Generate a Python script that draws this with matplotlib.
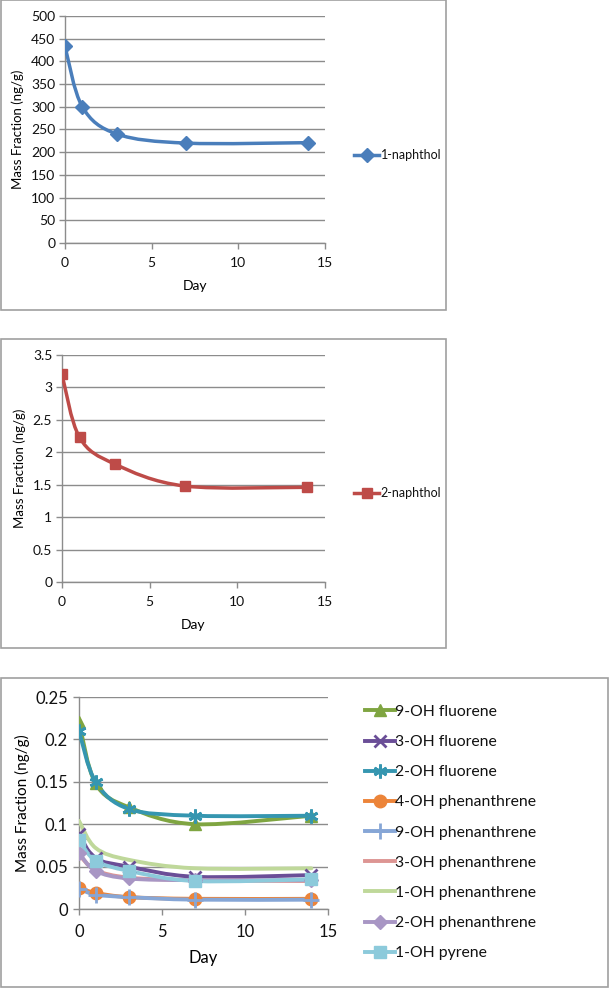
import matplotlib
matplotlib.use("Agg")
import matplotlib.pyplot as plt
import numpy as np
from matplotlib.path import Path
from matplotlib.patches import PathPatch, Rectangle
from matplotlib.lines import Line2D

plt.rcParams['font.family'] = ['Lato', 'DejaVu Sans']
plt.rcParams['text.color'] = '#111111'
plt.rcParams['xtick.labelcolor'] = '#111111'
plt.rcParams['ytick.labelcolor'] = '#111111'

days = [0, 1, 3, 7, 14]

naphthol1 = [433, 300, 240, 220, 221]
naphthol2 = [3.2, 2.23, 1.82, 1.48, 1.46]

oh_names = ["9-OH fluorene", "3-OH fluorene", "2-OH fluorene", "4-OH phenanthrene",
            "9-OH phenanthrene", "3-OH phenanthrene", "1-OH phenanthrene",
            "2-OH phenanthrene", "1-OH pyrene"]
fl9 = [0.220, 0.148, 0.120, 0.100, 0.110]
fl3 = [0.088, 0.060, 0.050, 0.038, 0.040]
fl2 = [0.210, 0.150, 0.118, 0.110, 0.110]
ph4 = [0.025, 0.019, 0.014, 0.012, 0.012]
ph9 = [0.024, 0.017, 0.014, 0.011, 0.011]
ph3 = [0.064, 0.046, 0.037, 0.034, 0.033]
ph1 = [0.104, 0.072, 0.058, 0.048, 0.048]
ph2 = [0.066, 0.045, 0.036, 0.034, 0.034]
py1 = [0.081, 0.057, 0.045, 0.033, 0.035]
oh_values = [fl9, fl3, fl2, ph4, ph9, ph3, ph1, ph2, py1]

oh_colors = ["#7FA541", "#6A4E97", "#3596B0", "#EC8439", "#86A6D6",
             "#DD9593", "#BFD89A", "#A896C4", "#8CCADB"]
oh_markers = ["^", "x", (6, 2, 0), "o", "+", "_", "_", "D", "s"]
oh_msize = [8, 8, 10, 9, 11, 0.1, 0.1, 7, 8]

W, H = 610, 988
fig = plt.figure(figsize=(W / 100, H / 100), dpi=100)

GRID = "#8C8C8C"


def fx(px):
    return px / W


def fy(py):
    return 1 - py / H


def add_box(x0, y0, x1, y1):
    fig.patches.append(Rectangle((fx(x0), fy(y1)), fx(x1 - x0), (y1 - y0) / H,
                                 transform=fig.transFigure, fill=False,
                                 edgecolor="#A0A0A0", linewidth=1.2))


def make_ax(l, t, r, b):
    ax = fig.add_axes([fx(l), fy(b), fx(r - l), (b - t) / H])
    for s in ["top", "right"]:
        ax.spines[s].set_visible(False)
    for s in ["left", "bottom"]:
        ax.spines[s].set_color(GRID)
        ax.spines[s].set_linewidth(1.0)
    ax.yaxis.grid(True, color=GRID, linewidth=1.0)
    ax.set_axisbelow(True)
    ax.tick_params(axis="both", color=GRID, length=4, width=1.0, direction="out")
    return ax


def smooth_line(ax, x, y, color, lw):
    pts = np.column_stack([x, y]).astype(float)
    n = len(pts)
    verts = [pts[0]]
    codes = [Path.MOVETO]
    for i in range(n - 1):
        p0 = pts[i - 1] if i > 0 else pts[i]
        p1 = pts[i]
        p2 = pts[i + 1]
        p3 = pts[i + 2] if i + 2 < n else pts[i + 1]
        c1 = p1 + (p2 - p0) / 6.0
        c2 = p2 - (p3 - p1) / 6.0
        verts += [c1, c2, p2]
        codes += [Path.CURVE4] * 3
    patch = PathPatch(Path(verts, codes), facecolor="none", edgecolor=color,
                      linewidth=lw, capstyle="round", joinstyle="round", zorder=3)
    ax.add_patch(patch)


# ---------- Panel 1 ----------
add_box(0.5, 0.5, 446, 310)
ax1 = make_ax(65, 16, 325, 243)
smooth_line(ax1, days, naphthol1, "#4A7EBB", 2.5)
ax1.plot(days, naphthol1, linestyle="none", marker="D", markersize=7,
         color="#4A7EBB", zorder=4)
ax1.set_xlim(0, 15)
ax1.set_ylim(0, 500)
ax1.set_xticks([0, 5, 10, 15])
ax1.set_yticks(np.arange(0, 501, 50))
ax1.tick_params(labelsize=10, pad=3)
ax1.tick_params(axis="x", pad=6)
ax1.set_xlabel("Day", fontsize=10, labelpad=8)
ax1.set_ylabel("Mass Fraction (ng/g)", fontsize=9.5, labelpad=5)
h1 = [Line2D([0], [0], color="#4A7EBB", lw=2.5, marker="D", markersize=7)]
fig.legend(h1, ["1-naphthol"], loc="center left",
           bbox_to_anchor=(fx(348), fy(155)), frameon=False, fontsize=9,
           handlelength=2.0, handletextpad=0.1, borderpad=0)

# ---------- Panel 2 ----------
add_box(0.5, 339, 446, 648)
ax2 = make_ax(62, 355, 325, 582)
smooth_line(ax2, days, naphthol2, "#BE4B48", 2.5)
ax2.plot(days, naphthol2, linestyle="none", marker="s", markersize=7.5,
         color="#BE4B48", zorder=4)
ax2.set_xlim(0, 15)
ax2.set_ylim(0, 3.5)
ax2.set_xticks([0, 5, 10, 15])
ax2.set_yticks(np.arange(0, 3.51, 0.5))
ax2.set_yticklabels(["0", "0.5", "1", "1.5", "2", "2.5", "3", "3.5"])
ax2.tick_params(labelsize=10, pad=3)
ax2.tick_params(axis="x", pad=6)
ax2.set_xlabel("Day", fontsize=10, labelpad=8)
ax2.set_ylabel("Mass Fraction (ng/g)", fontsize=9.5, labelpad=5)
h2 = [Line2D([0], [0], color="#BE4B48", lw=2.5, marker="s", markersize=7.5)]
fig.legend(h2, ["2-naphthol"], loc="center left",
           bbox_to_anchor=(fx(348), fy(493)), frameon=False, fontsize=9,
           handlelength=2.0, handletextpad=0.1, borderpad=0)

# ---------- Panel 3 ----------
add_box(0.5, 678, 608, 987)
ax3 = make_ax(79, 697, 328, 909)
handles = []
for name, vals, col, mk, ms in zip(oh_names, oh_values, oh_colors, oh_markers, oh_msize):
    smooth_line(ax3, days, vals, col, 2.8)
    mew = 2.0 if mk in ("x", "+", (6, 2, 0)) else 1.0
    ax3.plot(days, vals, linestyle="none", marker=mk, markersize=ms, color=col,
             markeredgewidth=mew, zorder=4)
    handles.append(Line2D([0], [0], color=col, lw=2.8, marker=mk, markersize=ms,
                          markeredgewidth=mew))
ax3.set_xlim(0, 15)
ax3.set_ylim(0, 0.25)
ax3.set_xticks([0, 5, 10, 15])
ax3.set_yticks([0, 0.05, 0.1, 0.15, 0.2, 0.25])
ax3.set_yticklabels(["0", "0.05", "0.1", "0.15", "0.2", "0.25"])
ax3.tick_params(labelsize=12, pad=4)
ax3.tick_params(axis="x", pad=7)
ax3.set_xlabel("Day", fontsize=12, labelpad=7)
ax3.set_ylabel("Mass Fraction (ng/g)", fontsize=11, labelpad=4)
fig.legend(handles, oh_names, loc="upper left",
           bbox_to_anchor=(fx(357), fy(697)), frameon=False, fontsize=11.3,
           handlelength=1.9, handletextpad=0.05, borderpad=0, labelspacing=1.03)

fig.savefig("out.png", dpi=100)
